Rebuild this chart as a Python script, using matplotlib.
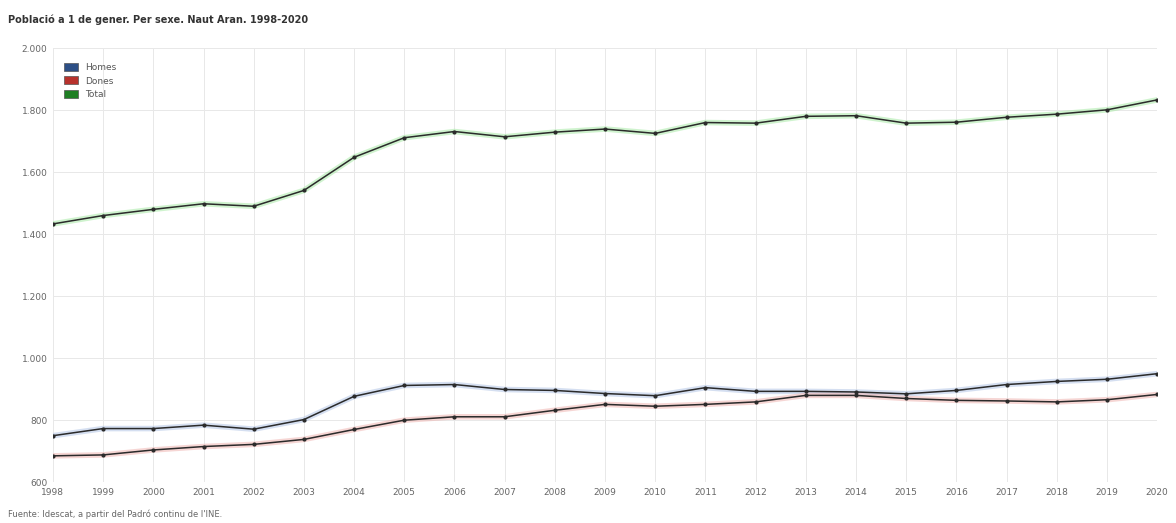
import numpy as np
import matplotlib.pyplot as plt
from matplotlib.patches import Patch
from matplotlib.ticker import FuncFormatter

years = list(range(1998, 2021))
homes = [750, 773, 773, 784, 771, 802, 877, 912, 915, 899, 896, 886,
         879, 905, 893, 893, 891, 885, 896, 915, 925, 932, 950]
dones = [685, 688, 704, 715, 722, 738, 770, 800, 811, 811, 832, 851,
         845, 851, 859, 880, 880, 870, 864, 862, 859, 866, 883]
total = [1433, 1460, 1480, 1498, 1490, 1541, 1648, 1711, 1731, 1714, 1729, 1739,
         1725, 1760, 1758, 1780, 1782, 1758, 1761, 1777, 1787, 1801, 1833]
y_ticks = [600, 800, 1000, 1200, 1400, 1600, 1800, 2000]

series = [
    ("Homes", homes, "#2d4f86", "#b3c6e6"),
    ("Dones", dones, "#b8322c", "#efb5b2"),
    ("Total", total, "#1f7f24", "#a8eaa6"),
]

fig = plt.figure(figsize=(11.76, 5.23), dpi=100)
ax = fig.add_axes([0.045, 0.078, 0.939, 0.83])

for name, vals, col, glow in series:
    # soft coloured halo under a dark line, like the original
    ax.plot(years, vals, color=glow, lw=4, alpha=0.55, solid_capstyle="round", zorder=2)
    ax.plot(years, vals, color="#2b2b2b", lw=1.1, marker="o", markersize=2, zorder=3)

ax.set_xlim(1998, 2020)
ax.set_ylim(600, 2000)
ax.set_xticks(years)
ax.set_yticks(y_ticks)
ax.yaxis.set_major_formatter(FuncFormatter(lambda v, p: f"{int(v):,}".replace(",", ".")))
ax.tick_params(axis="both", labelsize=6.5, colors="#666666", length=0, pad=4)
ax.grid(True, color="#e8e8e8", lw=0.7)
for s in ax.spines.values():
    s.set_visible(False)
ax.axhline(600, color="#d0d0d0", lw=0.7)

handles = [Patch(facecolor=c, edgecolor="#555555", lw=0.5, label=n) for n, _, c, _ in series]
leg = ax.legend(handles=handles, loc="upper left", bbox_to_anchor=(0.003, 0.985), frameon=False,
                fontsize=6.5, handlelength=1.5, handleheight=1.0, labelspacing=0.5)
for t in leg.get_texts():
    t.set_color("#555555")

fig.text(0.007, 0.962, "Població a 1 de gener. Per sexe. Naut Aran. 1998-2020",
         fontsize=7, fontweight="bold", color="#333333", va="center")
fig.text(0.007, 0.016, "Fuente: Idescat, a partir del Padró continu de l'INE.",
         fontsize=6, color="#666666", va="center")

fig.savefig("out.png", dpi=100, facecolor="white")
